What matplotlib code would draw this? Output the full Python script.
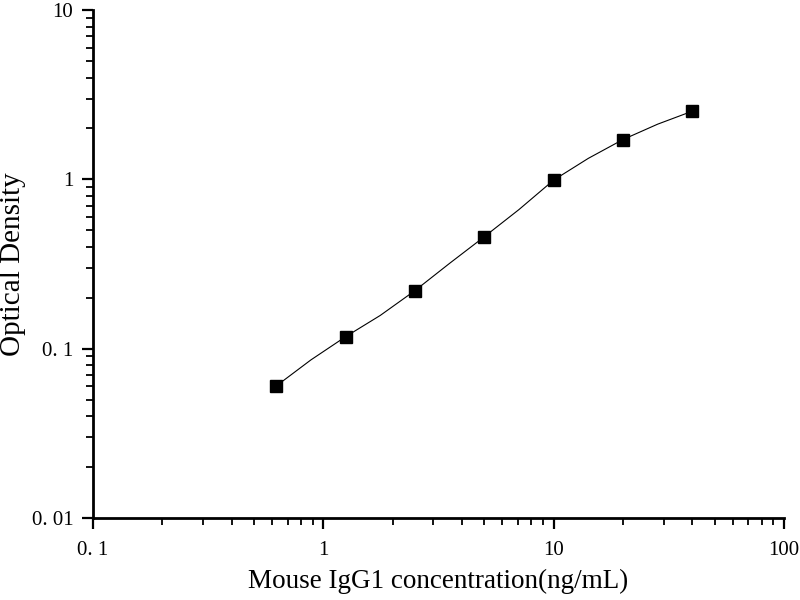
import matplotlib
matplotlib.use('Agg')
import matplotlib.pyplot as plt
from matplotlib.ticker import FixedLocator, LogLocator, NullFormatter

# standard points
conc = [0.625, 1.25, 2.5, 5, 10, 20, 40]
od = [0.0601, 0.1175, 0.220, 0.458, 0.99, 1.72, 2.53]

# fitted curve
curve_x = [0.625, 0.884, 1.25, 1.768, 2.5, 3.536, 5, 7.071, 10, 14.14, 20, 28.28, 40]
curve_y = [0.0601, 0.0857, 0.1175, 0.157, 0.220, 0.319, 0.458, 0.663, 0.99, 1.331, 1.72, 2.12, 2.53]

x_ticks = [0.1, 1, 10, 100]
x_labels = ['0. 1', '1', '10', '100']
y_ticks = [0.01, 0.1, 1, 10]
y_labels = ['0. 01', '0. 1', '1', '10']

plt.rcParams['font.family'] = ['Liberation Serif', 'DejaVu Serif']

fig = plt.figure(figsize=(8, 6), dpi=100)
ax = fig.add_axes([0.116, 0.137, 0.864, 0.846])

ax.plot(curve_x, curve_y, color='black', linewidth=0.8)
ax.plot(conc, od, linestyle='none', marker='s', markersize=8, color='black')

ax.set_xscale('log')
ax.set_yscale('log')
ax.set_xlim(0.1, 100)
ax.set_ylim(0.01, 10)

ax.xaxis.set_major_locator(FixedLocator(x_ticks))
ax.set_xticklabels(x_labels)
ax.yaxis.set_major_locator(FixedLocator(y_ticks))
ax.set_yticklabels(y_labels)
ax.xaxis.set_minor_locator(LogLocator(base=10, subs=range(2, 10)))
ax.yaxis.set_minor_locator(LogLocator(base=10, subs=range(2, 10)))
ax.xaxis.set_minor_formatter(NullFormatter())
ax.yaxis.set_minor_formatter(NullFormatter())

for side in ['top', 'right']:
    ax.spines[side].set_visible(False)
for side in ['left', 'bottom']:
    ax.spines[side].set_linewidth(2)

ax.tick_params(which='major', length=8, width=1.6, labelsize=15, direction='out')
ax.tick_params(which='minor', length=5, width=1.3, direction='out')
ax.tick_params(axis='x', which='major', pad=9)
ax.tick_params(axis='y', which='major', pad=6)

ax.set_xlabel('Mouse IgG1 concentration(ng/mL)', fontsize=19.5, labelpad=6)
ax.set_ylabel('Optical Density', fontsize=21, labelpad=4)

fig.savefig('out.png', dpi=100)
